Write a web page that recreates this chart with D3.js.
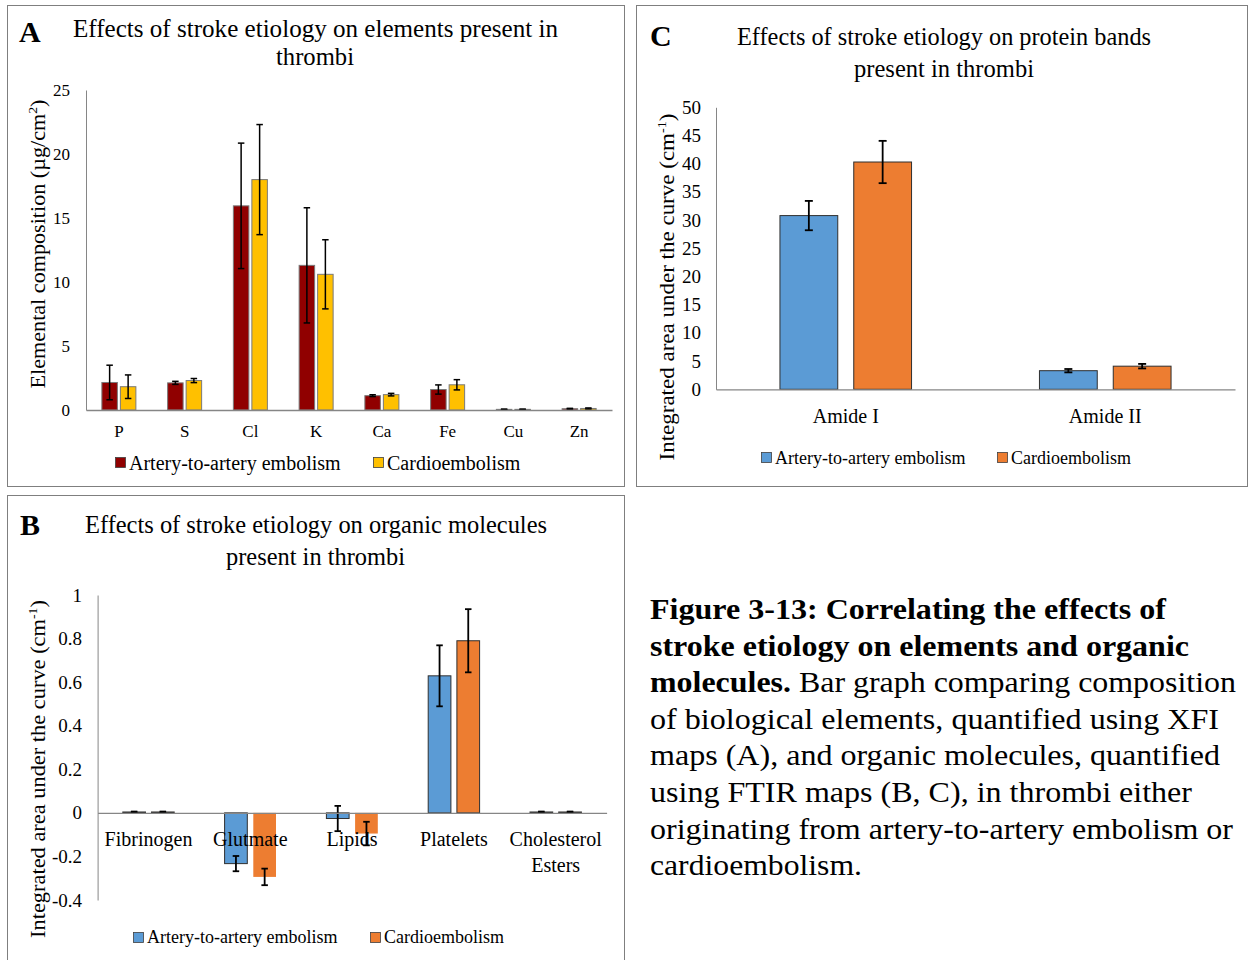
<!DOCTYPE html>
<html>
<head>
<meta charset="utf-8">
<script src="https://cdn.jsdelivr.net/npm/d3@7"></script>
<style>
body { margin: 0; background: #fff; }
svg text { font-family: 'Liberation Serif', 'Times New Roman', serif; fill: #000; }
</style>
</head>
<body>
<script>
// ---- data ----
var seriesNames = ["Artery-to-artery embolism", "Cardioembolism"];

// A: elements (XFI), ug/cm2
var elemNames = ["P", "S", "Cl", "K", "Ca", "Fe", "Cu", "Zn"];
var elemArtery = [2.15, 2.12, 15.95, 11.3, 1.12, 1.6, 0.05, 0.1];
var elemArteryErr = [1.35, 0.12, 4.9, 4.5, 0.07, 0.36, 0.02, 0.03];
var elemCardio = [1.82, 2.3, 18.0, 10.6, 1.2, 1.97, 0.05, 0.12];
var elemCardioErr = [0.92, 0.16, 4.3, 2.7, 0.1, 0.4, 0.02, 0.04];
var elemTicks = [0, 5, 10, 15, 20, 25];

// B: organic molecules (FTIR), cm-1
var orgNames = ["Fibrinogen", "Glutmate", "Lipids", "Platelets", "Cholesterol Esters"];
var orgArtery = [0.004, -0.233, -0.026, 0.629, 0.004];
var orgArteryErr = [0.002, 0.035, 0.058, 0.14, 0.002];
var orgCardio = [0.004, -0.294, -0.095, 0.79, 0.004];
var orgCardioErr = [0.002, 0.038, 0.054, 0.145, 0.002];
var orgTicks = [-0.4, -0.2, 0, 0.2, 0.4, 0.6, 0.8, 1];

// C: protein bands (FTIR), cm-1
var protNames = ["Amide I", "Amide II"];
var protArtery = [30.8, 3.3];
var protArteryErr = [2.6, 0.3];
var protCardio = [40.3, 4.1];
var protCardioErr = [3.75, 0.4];
var protTicks = [0, 5, 10, 15, 20, 25, 30, 35, 40, 45, 50];

var captionLines = [
	[["Figure 3-13: Correlating the effects of", true]],
	[["stroke etiology on elements and organic", true]],
	[["molecules.", true], [" Bar graph comparing composition", false]],
	[["of biological elements, quantified using XFI", false]],
	[["maps (A), and organic molecules, quantified", false]],
	[["using FTIR maps (B, C), in thrombi either", false]],
	[["originating from artery-to-artery embolism or", false]],
	[["cardioembolism.", false]]
];
var captionWidths = [516, 539, 586, 569, 570, 542, 583, 212];

var FONT = "'Liberation Serif', 'Times New Roman', serif";

var svg = d3.select("body").append("svg")
	.attr("width", 1249)
	.attr("height", 960)
	.style("font-family", FONT);

function drawPanel(p) {
	var g = svg.append("g");

	// frame
	g.append("rect")
		.attr("x", p.box[0] + 0.5).attr("y", p.box[1] + 0.5)
		.attr("width", p.box[2]).attr("height", p.box[3])
		.attr("fill", "none").attr("stroke", "#7f7f7f").attr("stroke-width", 1);

	// panel letter
	g.append("text")
		.attr("x", p.letter[1]).attr("y", p.letter[2])
		.style("font-family", FONT)
		.style("font-size", "30px").style("font-weight", "bold")
		.text(p.letter[0]);

	// title lines
	p.title.forEach(function (t) {
		g.append("text")
			.attr("x", t.x).attr("y", t.y)
			.attr("textLength", t.w).attr("lengthAdjust", "spacingAndGlyphs")
			.style("font-family", FONT)
			.style("font-size", p.titleFont + "px")
			.text(t.text);
	});

	var x = d3.scaleBand().domain(p.names).range([p.x0, p.x1]);
	var y = d3.scaleLinear().domain(p.domain).range([p.yBot, p.yTop]);
	var x1 = d3.scaleBand().domain([0, 1])
		.range([-(p.barW + p.gap / 2), p.barW + p.gap / 2])
		.paddingInner(p.gap / (p.barW + p.gap));

	// y axis
	var yAxis = g.append("g")
		.attr("transform", "translate(" + p.x0 + ",0)")
		.call(d3.axisLeft(y).tickValues(p.ticks).tickSize(0).tickSizeOuter(0)
			.tickPadding(p.tickPad).tickFormat(function (d) { return String(d); }));
	yAxis.select(".domain").attr("stroke", "#868686");
	yAxis.selectAll("text")
		.style("font-size", p.tickFont + "px")
		.style("font-family", FONT);

	// bars
	var rows = p.names.map(function (n, i) {
		return [
			{ name: n, s: 0, v: p.vals[0][i], e: p.errs[0][i] },
			{ name: n, s: 1, v: p.vals[1][i], e: p.errs[1][i] }
		];
	});
	var grp = g.selectAll(".grp").data(rows).enter().append("g")
		.attr("class", "grp")
		.attr("transform", function (d) { return "translate(" + (x(d[0].name) + x.bandwidth() / 2) + ",0)"; });

	grp.selectAll("rect").data(function (d) { return d; }).enter().append("rect")
		.attr("x", function (d) { return x1(d.s); })
		.attr("width", x1.bandwidth())
		.attr("y", function (d) { return Math.min(y(d.v), y(0)); })
		.attr("height", function (d) { return Math.max(Math.abs(y(d.v) - y(0)), 0.8); })
		.attr("fill", function (d) { return p.colors[d.s]; })
		.attr("stroke", function (d) {
			if (p.noStrokeNeg && d.s === 1 && d.v < 0) return "none";
			return p.barStroke;
		})
		.attr("stroke-width", 1);

	// x axis line at zero
	var xAxis = g.append("g")
		.attr("transform", "translate(0," + y(0) + ")")
		.call(d3.axisBottom(x).tickSize(0).tickSizeOuter(0).tickFormat(""));
	xAxis.select(".domain").attr("stroke", "#868686").attr("stroke-width", 1.3);

	// category labels
	p.names.forEach(function (n) {
		var lines = p.wrap ? n.split(" ") : [n];
		var t = g.append("text")
			.attr("text-anchor", "middle")
			.style("font-family", FONT)
			.style("font-size", p.catFont + "px");
		lines.forEach(function (l, k) {
			t.append("tspan")
				.attr("x", x(n) + x.bandwidth() / 2)
				.attr("y", p.catY + k * p.catLine)
				.text(l);
		});
	});

	// error bars
	var eb = grp.selectAll(".err").data(function (d) { return d; }).enter().append("g")
		.attr("class", "err")
		.attr("stroke", "#000").attr("stroke-width", p.errW);
	eb.append("line")
		.attr("x1", function (d) { return x1(d.s) + x1.bandwidth() / 2; })
		.attr("x2", function (d) { return x1(d.s) + x1.bandwidth() / 2; })
		.attr("y1", function (d) { return y(d.v + d.e); })
		.attr("y2", function (d) { return y(d.v - d.e); });
	[1, -1].forEach(function (sgn) {
		eb.append("line")
			.attr("x1", function (d) { return x1(d.s) + x1.bandwidth() / 2 - p.cap / 2; })
			.attr("x2", function (d) { return x1(d.s) + x1.bandwidth() / 2 + p.cap / 2; })
			.attr("y1", function (d) { return y(d.v + sgn * d.e); })
			.attr("y2", function (d) { return y(d.v + sgn * d.e); });
	});

	// y axis title
	var yt = g.append("text")
		.attr("transform", "translate(" + p.yTitle.x + "," + p.yTitle.y + ") rotate(-90)")
		.attr("text-anchor", "middle")
		.attr("textLength", p.yTitle.w).attr("lengthAdjust", "spacingAndGlyphs")
		.style("font-family", FONT)
		.style("font-size", p.yTitleFont + "px");
	yt.append("tspan").text(p.yTitle.main);
	yt.append("tspan").attr("dy", -8).style("font-size", (p.yTitleFont * 0.62) + "px").text(p.yTitle.sup);
	yt.append("tspan").attr("dy", 8).text(")");

	// legend
	seriesNames.forEach(function (s, i) {
		g.append("rect")
			.attr("x", p.legend.xs[i] + 0.5).attr("y", p.legend.y + 0.5)
			.attr("width", p.legend.size).attr("height", p.legend.size)
			.attr("fill", p.colors[i]).attr("stroke", "#404040").attr("stroke-width", 0.8);
		g.append("text")
			.attr("x", p.legend.xs[i] + p.legend.size + 4)
			.attr("y", p.legend.base)
			.style("font-family", FONT)
			.style("font-size", p.legend.font + "px")
			.text(s);
	});
}

drawPanel({
	box: [7, 5, 617, 481],
	letter: ["A", 19, 42],
	titleFont: 24.5,
	title: [
		{ text: "Effects of stroke etiology on elements present in", x: 73, y: 37, w: 485 },
		{ text: "thrombi", x: 276, y: 65, w: 78 }
	],
	names: elemNames,
	vals: [elemArtery, elemCardio],
	errs: [elemArteryErr, elemCardioErr],
	ticks: elemTicks,
	domain: [0, 25],
	x0: 86, x1: 612, yTop: 90, yBot: 410,
	barW: 15.5, gap: 3, cap: 6.5, errW: 1.5,
	colors: ["#900000", "#FFC000"],
	barStroke: "#7a7a7a",
	tickPad: 16, tickFont: 17,
	catFont: 17, catY: 437, catLine: 20, wrap: false,
	yTitleFont: 21,
	yTitle: { x: 45, y: 244, w: 289, main: "Elemental composition (µg/cm", sup: "2" },
	legend: { xs: [115, 373], y: 457, size: 10, base: 470, font: 20 }
});

drawPanel({
	box: [7, 495, 617, 470],
	letter: ["B", 20, 535],
	titleFont: 24.5,
	title: [
		{ text: "Effects of stroke etiology on organic molecules", x: 85, y: 533, w: 462 },
		{ text: "present in thrombi", x: 226, y: 565, w: 179 }
	],
	names: orgNames,
	vals: [orgArtery, orgCardio],
	errs: [orgArteryErr, orgCardioErr],
	ticks: orgTicks,
	domain: [-0.4, 1],
	x0: 97.6, x1: 606.6, yTop: 595, yBot: 900,
	barW: 22.7, gap: 6, cap: 6.5, errW: 1.8,
	colors: ["#5B9BD5", "#ED7D31"],
	barStroke: "#2f2f2f", noStrokeNeg: true,
	tickPad: 15.5, tickFont: 19,
	catFont: 20, catY: 846, catLine: 26, wrap: true,
	yTitleFont: 21,
	yTitle: { x: 45, y: 769, w: 338, main: "Integrated area under the curve (cm", sup: "-1" },
	legend: { xs: [133, 370], y: 932, size: 10, base: 943, font: 18 }
});

drawPanel({
	box: [636, 5, 611, 481],
	letter: ["C", 650, 46],
	titleFont: 25,
	title: [
		{ text: "Effects of stroke etiology on protein bands", x: 737, y: 45, w: 414 },
		{ text: "present in thrombi", x: 854, y: 77, w: 180 }
	],
	names: protNames,
	vals: [protArtery, protCardio],
	errs: [protArteryErr, protCardioErr],
	ticks: protTicks,
	domain: [0, 50],
	x0: 716, x1: 1235, yTop: 107.3, yBot: 389.3,
	barW: 57.8, gap: 16, cap: 8, errW: 1.8,
	colors: ["#5B9BD5", "#ED7D31"],
	barStroke: "#2f2f2f",
	tickPad: 15, tickFont: 19,
	catFont: 20, catY: 423, catLine: 24, wrap: false,
	yTitleFont: 21,
	yTitle: { x: 674, y: 287, w: 347, main: "Integrated area under the curve (cm", sup: "-1" },
	legend: { xs: [761, 997], y: 452, size: 10, base: 464, font: 18 }
});

// caption
captionLines.forEach(function (line, i) {
	var t = svg.append("text")
		.attr("x", 650)
		.attr("y", 619 + i * 36.6)
		.attr("textLength", captionWidths[i])
		.attr("lengthAdjust", "spacingAndGlyphs")
		.style("font-family", FONT)
		.style("font-size", "29px");
	line.forEach(function (part) {
		t.append("tspan")
			.style("font-weight", part[1] ? "bold" : "normal")
			.text(part[0]);
	});
});
</script>
</body>
</html>
